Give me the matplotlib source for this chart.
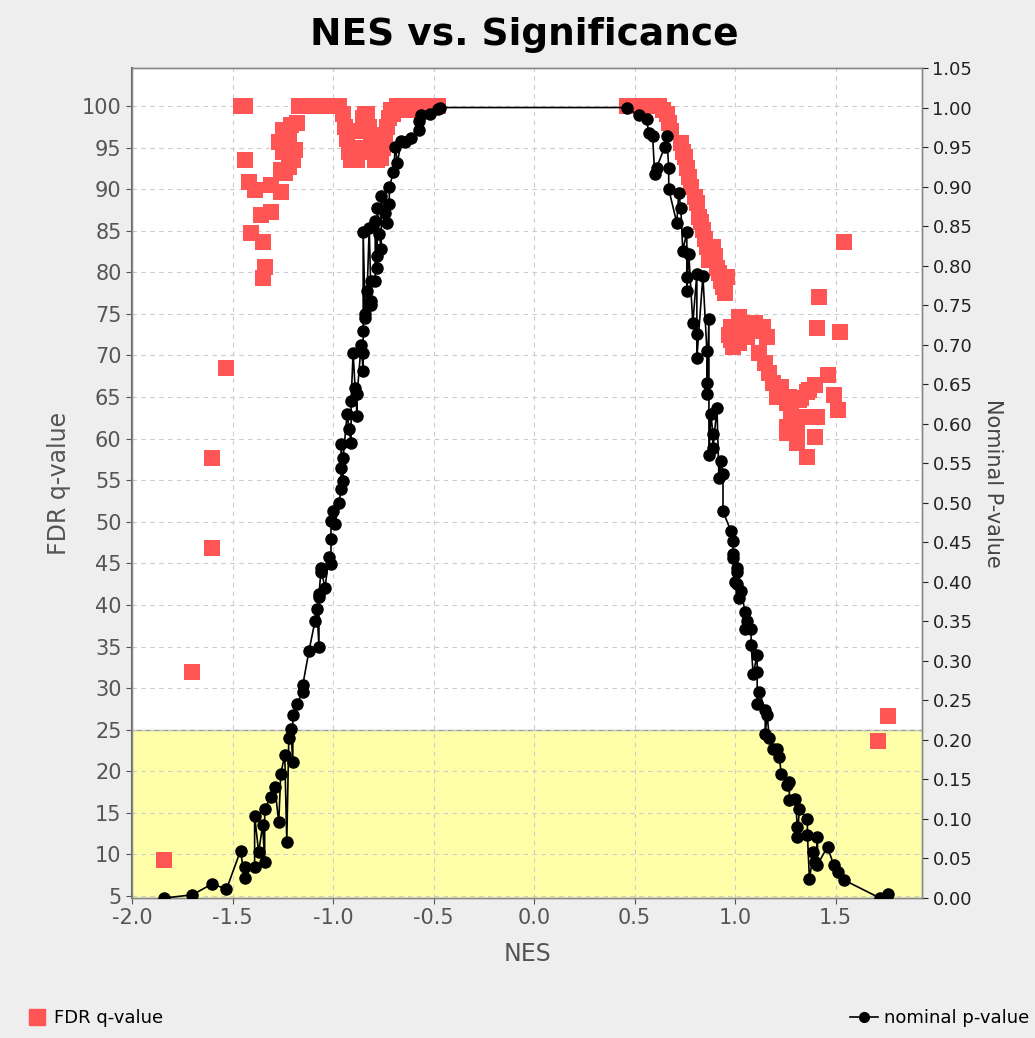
import numpy as np
import matplotlib
matplotlib.use("Agg")
import matplotlib.pyplot as plt
from matplotlib.lines import Line2D

# nominal p-value per gene set (NES, p)
nes_p = [-1.84, -1.70, -1.60, -1.53, -1.46, -1.44, -1.44, -1.39, -1.37, -1.34,
         -1.39, -1.35, -1.34, -1.31, -1.29, -1.27, -1.26, -1.24, -1.23, -1.22,
         -1.21, -1.20, -1.20, -1.18, -1.15, -1.15, -1.12, -1.09, -1.08, -1.07,
         -1.07, -1.07, -1.06, -1.06, -1.04, -1.02, -1.01, -1.01, -1.01, -1.00,
         -0.99, -0.97, -0.96, -0.95, -0.96, -0.95, -0.96, -0.91, -0.92, -0.93,
         -0.88, -0.91, -0.88, -0.89, -0.85, -0.90, -0.85, -0.86, -0.85, -0.84,
         -0.84, -0.81, -0.81, -0.83, -0.81, -0.79, -0.78, -0.78, -0.76, -0.77,
         -0.85, -0.82, -0.79, -0.73, -0.74, -0.78, -0.72, -0.76, -0.72, -0.70,
         -0.68, -0.69, -0.66, -0.64, -0.61, -0.57, -0.57, -0.56, -0.52, -0.48,
         -0.47,
         0.46, 0.52, 0.56, 0.57, 0.59, 0.60, 0.61, 0.65, 0.66, 0.67,
         0.67, 0.71, 0.72, 0.73, 0.74, 0.76, 0.76, 0.76, 0.77, 0.79,
         0.81, 0.81, 0.81, 0.84, 0.86, 0.86, 0.86, 0.87, 0.87, 0.88,
         0.89, 0.89, 0.91, 0.92, 0.93, 0.94, 0.94, 0.98, 0.99, 0.99,
         0.99, 1.00, 1.01, 1.01, 1.01, 1.02, 1.03, 1.05, 1.05, 1.06,
         1.08, 1.08, 1.09, 1.11, 1.11, 1.11, 1.12, 1.15, 1.15, 1.16,
         1.17, 1.19, 1.21, 1.22, 1.23, 1.26, 1.27, 1.27, 1.30, 1.31,
         1.31, 1.32, 1.36, 1.36, 1.37, 1.39, 1.40, 1.41, 1.41, 1.46,
         1.49, 1.51, 1.54, 1.72, 1.76]
pval = [0.000, 0.004, 0.018, 0.011, 0.060, 0.025, 0.039, 0.039, 0.058, 0.046,
        0.104, 0.092, 0.112, 0.128, 0.141, 0.096, 0.157, 0.181, 0.071, 0.202,
        0.214, 0.172, 0.232, 0.245, 0.261, 0.270, 0.312, 0.350, 0.366, 0.318,
        0.381, 0.384, 0.413, 0.417, 0.392, 0.432, 0.422, 0.454, 0.477, 0.489,
        0.473, 0.500, 0.518, 0.527, 0.544, 0.556, 0.574, 0.575, 0.593, 0.612,
        0.610, 0.629, 0.637, 0.645, 0.667, 0.690, 0.690, 0.700, 0.717, 0.734,
        0.739, 0.750, 0.755, 0.768, 0.781, 0.781, 0.797, 0.812, 0.821, 0.840,
        0.842, 0.848, 0.857, 0.854, 0.867, 0.873, 0.878, 0.888, 0.899, 0.918,
        0.930, 0.950, 0.958, 0.956, 0.962, 0.971, 0.983, 0.990, 0.992, 0.998,
        1.000,
        1.000, 0.990, 0.986, 0.968, 0.964, 0.916, 0.924, 0.950, 0.964, 0.924,
        0.897, 0.854, 0.892, 0.873, 0.819, 0.842, 0.785, 0.768, 0.815, 0.727,
        0.790, 0.713, 0.683, 0.787, 0.692, 0.651, 0.637, 0.733, 0.561, 0.612,
        0.587, 0.569, 0.620, 0.531, 0.553, 0.536, 0.489, 0.464, 0.451, 0.435,
        0.430, 0.400, 0.417, 0.413, 0.397, 0.379, 0.388, 0.362, 0.340, 0.350,
        0.340, 0.320, 0.283, 0.308, 0.286, 0.245, 0.261, 0.238, 0.208, 0.232,
        0.202, 0.189, 0.189, 0.179, 0.157, 0.143, 0.147, 0.124, 0.125, 0.090,
        0.077, 0.112, 0.100, 0.080, 0.024, 0.058, 0.046, 0.077, 0.042, 0.065,
        0.042, 0.033, 0.023, 0.000, 0.005]

# FDR q-value (%) per gene set
nes_q = [-1.84, -1.70, -1.60, -1.60, -1.53, -1.46, -1.44, -1.44, -1.42, -1.39,
         -1.41, -1.36, -1.35, -1.34, -1.35, -1.31, -1.26, -1.31, -1.26, -1.22,
         -1.20, -1.27, -1.25, -1.21, -1.18, -1.25, -1.24, -1.19, -1.22,
         -1.17, -1.15, -1.13, -1.11, -1.09, -1.07, -1.05, -1.03, -1.01, -0.99,
         -0.97, -0.95, -0.94, -0.93, -0.92, -0.91, -0.90, -0.89, -0.88, -0.87,
         -0.86, -0.85, -0.84, -0.83, -0.82, -0.81, -0.80, -0.79, -0.78, -0.77,
         -0.76, -0.75, -0.74, -0.73, -0.72, -0.71, -0.70, -0.68, -0.66, -0.64,
         -0.62, -0.60, -0.58, -0.56, -0.54, -0.52, -0.50, -0.48,
         0.46, 0.48, 0.50, 0.52, 0.54, 0.56, 0.58, 0.60, 0.62, 0.64,
         0.66, 0.67, 0.68, 0.73, 0.74, 0.75, 0.76, 0.77, 0.78, 0.80,
         0.81, 0.82, 0.83, 0.84, 0.85, 0.86, 0.88, 0.89, 0.87, 0.90,
         0.91, 0.92, 0.93, 0.94, 0.95, 0.96,
         0.97, 0.98, 0.98, 0.99, 1.00, 1.02, 1.02, 1.04, 1.06, 1.08,
         1.10, 1.12, 1.14, 1.16, 1.12, 1.15, 1.17, 1.19, 1.21, 1.23,
         1.26, 1.27, 1.28, 1.26, 1.26, 1.31, 1.31, 1.32, 1.33, 1.36,
         1.36, 1.36, 1.37, 1.40, 1.40, 1.41, 1.46, 1.49, 1.51, 1.42,
         1.41, 1.52, 1.54, 1.71, 1.76]
fdr = [9.3, 31.9, 57.7, 46.8, 68.5, 100, 100, 93.5, 90.9, 89.9,
       84.7, 86.9, 83.6, 80.6, 79.3, 90.5, 89.7, 87.3, 92.3, 92.7,
       93.5, 95.7, 97.1, 97.7, 97.9, 94.5, 91.9, 94.7, 96.3,
       100, 100, 100, 100, 100, 100, 100, 100, 100, 100,
       100, 99, 97.5, 96, 94.5, 93.5, 93.5, 94.5, 93.5, 95,
       97, 98.5, 99, 99, 97.5, 96, 94.5, 93.5, 93.5, 94,
       93.8, 95, 96.5, 97.5, 98.5, 99.5, 99, 100, 99.5, 100,
       99.5, 100, 100, 100, 100, 100, 100, 100,
       100, 100, 100, 100, 100, 100, 100, 100, 100, 99.5,
       99, 98, 97, 95.5, 94.5, 93.9, 92.5, 91.5, 90.3, 89,
       88.3, 86.6, 86, 85.1, 84, 83, 82.5, 83, 81.5, 82,
       80.5, 79.9, 79, 78.2, 77.5, 79.4,
       72.5, 73.4, 71.9, 71, 72.5, 74.6, 71.5, 73.5, 72.2, 73.9,
       73.9, 73, 73.4, 72.2, 70.3, 69.1, 67.9, 66.7, 65.0, 66.2,
       64.3, 65.0, 62.8, 61.4, 60.7, 61, 59.5, 64.6, 64.9, 65.6,
       62.6, 57.8, 65.8, 66.4, 60.2, 62.6, 67.6, 65.2, 63.4, 77,
       73.3, 72.8, 83.6, 23.6, 26.6]

left_ticks = list(range(5, 101, 5))
right_ticks = [round(0.05 * i, 2) for i in range(22)]
x_ticks = [-2.0, -1.5, -1.0, -0.5, 0.0, 0.5, 1.0, 1.5]

red = "#FF5555"

fig = plt.figure(figsize=(10.35, 10.38), dpi=100, facecolor="#EEEEEE")
ax = fig.add_axes([132 / 1035, 1 - 898 / 1038, 790 / 1035, 830 / 1038])
ax.set_facecolor("white")
ax.set_xlim(-2.0, 1.93)
ax.set_ylim(4.76, 104.57)

# significance band
ax.axhspan(4.76, 25, facecolor="#FFFFAA", edgecolor="none", zorder=0)
ax.axhline(25, color="#999999", lw=1, zorder=0.5)

ax.set_xticks(x_ticks)
ax.set_xticklabels([f"{v:.1f}" for v in x_ticks])
ax.set_yticks(left_ticks)
ax.grid(True, color="#CCCCCC", linestyle=(0, (4, 4)), lw=0.8, zorder=0.6)
ax.set_axisbelow(True)

ax.scatter(nes_q, fdr, marker="s", s=120, color=red, linewidths=0, zorder=3)

ax2 = ax.twinx()
ax2.set_ylim(0, 1.049)
ax2.set_yticks(right_ticks)
ax2.set_yticklabels([f"{v:.2f}" for v in right_ticks])
order = np.argsort(nes_p, kind="stable")
xs = np.array(nes_p)[order]
ys = np.array(pval)[order]
ax2.plot(xs, ys, color="black", lw=1.2, marker="o", ms=8, zorder=4)

ax.tick_params(labelsize=15, colors="#555555", length=4, width=0.8)
ax2.tick_params(labelsize=13, colors="#222222", length=4, width=0.8)
for a in (ax, ax2):
    for sp in a.spines.values():
        sp.set_color("#888888")
        sp.set_linewidth(1.0)
ax.spines["left"].set_color("#666666")
ax.spines["left"].set_linewidth(1.5)

ax.set_xlabel("NES", fontsize=17, color="#555555", labelpad=10)
ax.set_ylabel("FDR q-value", fontsize=17, color="#555555", labelpad=8)
ax2.set_ylabel("Nominal P-value", fontsize=15, color="#444444", rotation=270, labelpad=22)

fig.text(0.507, 0.966, "NES vs. Significance", ha="center", va="center",
         fontsize=27, fontweight="bold", color="black")

h1 = Line2D([], [], marker="s", color=red, ls="None", ms=11)
h2 = Line2D([], [], marker="o", color="black", lw=1.2, ms=7)
fig.legend([h1], ["FDR q-value"], loc="center left", bbox_to_anchor=(0.01, 0.019),
           frameon=False, fontsize=13, handletextpad=0.3, handlelength=1.2)
fig.legend([h2], ["nominal p-value"], loc="center right", bbox_to_anchor=(1.01, 0.019),
           frameon=False, fontsize=13, handletextpad=0.3, handlelength=1.6)

fig.savefig("out.png", dpi=100, facecolor=fig.get_facecolor())
